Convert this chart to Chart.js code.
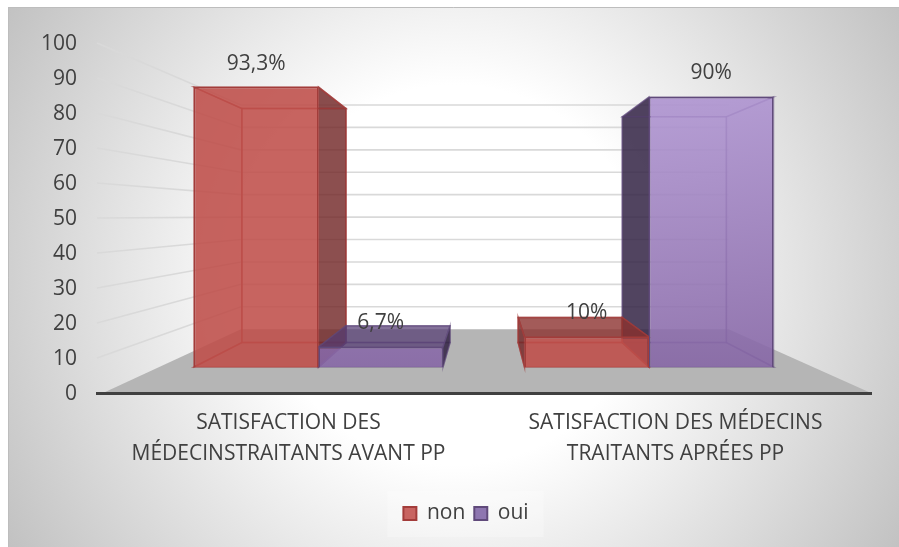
<!DOCTYPE html>
<html>
<head>
<meta charset="utf-8">
<style>html,body{margin:0;padding:0;background:#fff}canvas{display:block}</style>
<script src="https://cdn.jsdelivr.net/npm/chart.js@4/dist/chart.umd.min.js"></script>
</head>
<body>
<canvas id="c" width="899" height="547"></canvas>
<script>
const categories = [
  ['SATISFACTION DES', 'MÉDECINSTRAITANTS AVANT PP'],
  ['SATISFACTION DES MÉDECINS', 'TRAITANTS APRÉES PP']
];
const nonValues = [93.3, 10];
const ouiValues = [6.7, 90];
const nonLabels = ['93,3%', '10%'];
const ouiLabels = ['6,7%', '90%'];
const yTicks = {min: 0, max: 100, step: 10};

const TXT = '#404040', FONT = '"Open Sans", sans-serif';
const VP = {x: 486, y: 218};        // vanishing point of the 3D projection
const BAR_DEPTH = 0.836, WALL_DEPTH = 0.63;
const LEGEND_SHIFT = 30.5;
const project = (x, y, s) => [VP.x + s * (x - VP.x), VP.y + s * (y - VP.y)];

const styles = [
  {stroke: '#a33c3a', line: 'rgba(163,60,58,.7)', side: 'rgba(115,40,40,.82)', top: 'rgba(140,50,48,.8)', inner: 'rgba(110,30,30,.05)'},
  {stroke: '#604a7b', line: 'rgba(96,74,123,.5)', side: 'rgba(50,35,68,.85)', top: 'rgba(85,60,115,.72)', inner: 'rgba(60,30,100,.06)'}
];

function poly(ctx, pts, fill, stroke) {
  ctx.beginPath();
  pts.forEach((p, i) => i ? ctx.lineTo(p[0], p[1]) : ctx.moveTo(p[0], p[1]));
  ctx.closePath();
  if (fill) { ctx.fillStyle = fill; ctx.fill(); }
  if (stroke) { ctx.strokeStyle = stroke; ctx.lineWidth = 1.5; ctx.stroke(); }
}

const scene = {
  id: 'scene',
  afterLayout(chart) {
    chart.legend.left += LEGEND_SHIFT;
    chart.legend.right += LEGEND_SHIFT;
  },
  beforeDraw(chart) {
    const {ctx} = chart, W = chart.width, H = chart.height;
    ctx.save();
    const g = ctx.createRadialGradient(455, 275, 190, 455, 275, 520);
    g.addColorStop(0, '#ffffff');
    g.addColorStop(1, '#c2c2c2');
    ctx.fillStyle = g;
    ctx.fillRect(8, 7, W - 8, H - 7);
    ctx.strokeStyle = '#bdbdbd';
    ctx.lineWidth = 1;
    ctx.beginPath();
    ctx.moveTo(8.5, H); ctx.lineTo(8.5, 7.5); ctx.lineTo(W, 7.5);
    ctx.stroke();

    // legend's faint panel
    const lg = chart.legend;
    const lw = lg.lineWidths[0];
    const lx = (lg.left + lg.options.labels.padding + lg.right - lw) / 2;
    ctx.fillStyle = 'rgba(255,255,255,.25)';
    ctx.fillRect(lx - 16, (lg.top + lg.bottom) / 2 - 23, lw + 22, 46);

    const a = chart.chartArea, y = chart.scales.y, yB = chart.scales.yBack;
    const bl = project(a.left, 0, WALL_DEPTH)[0], br = project(a.right, 0, WALL_DEPTH)[0];
    // floor
    const y0 = y.getPixelForValue(0), b0 = yB.getPixelForValue(0);
    poly(ctx, [[a.left + 6, y0], [bl, b0], [br, b0], [a.right, y0]], '#b5b5b5');
    // walls' gridlines
    ctx.strokeStyle = '#d9d9d9';
    ctx.lineWidth = 1.6;
    y.ticks.forEach(t => {
      if (t.value === 0) return;
      const yf = y.getPixelForValue(t.value), yb = yB.getPixelForValue(t.value);
      ctx.beginPath();
      ctx.moveTo(a.left, yf); ctx.lineTo(bl, yb); ctx.lineTo(br, yb);
      ctx.stroke();
    });
    ctx.restore();
  },
  beforeDatasetsDraw(chart) {
    const {ctx} = chart;
    const bars = [];
    chart.data.datasets.forEach((ds, di) => {
      chart.getDatasetMeta(di).data.forEach((el, i) => bars.push({el, di, v: ds.data[i].y}));
    });
    bars.sort((p, q) => q.v - p.v);
    ctx.save();
    bars.forEach(({el, di}) => {
      const st = styles[di];
      const l = el.x - el.width / 2, r = el.x + el.width / 2, t = el.y, b = el.base;
      const A = [l, t], B = [r, t], C = [r, b], D = [l, b];
      const a2 = project(l, t, BAR_DEPTH), b2 = project(r, t, BAR_DEPTH);
      const c2 = project(r, b, BAR_DEPTH), d2 = project(l, b, BAR_DEPTH);
      poly(ctx, [a2, b2, c2, d2], null, st.line);
      poly(ctx, [D, C, c2, d2], st.inner, st.line);
      poly(ctx, [A, a2, d2, D], a2[0] < l ? st.side : st.inner, st.line);
      poly(ctx, [B, b2, c2, C], b2[0] > r ? st.side : st.inner, st.line);
      poly(ctx, [A, B, b2, a2], a2[1] < t ? st.top : st.inner, st.line);
    });
    ctx.restore();
  },
  afterDatasetsDraw(chart) {
    const {ctx} = chart;
    ctx.save();
    ctx.fillStyle = TXT;
    ctx.font = '21px ' + FONT;
    ctx.textAlign = 'center';
    ctx.textBaseline = 'middle';
    chart.data.datasets.forEach((ds, di) => {
      chart.getDatasetMeta(di).data.forEach((el, i) => {
        ctx.fillText(ds.valueLabels[i], el.x, el.y - 23.5);
      });
    });
    ctx.restore();
  }
};

function purpleFill(c) {
  const s = c.chart.scales.yBars;
  const y1 = s ? s.getPixelForValue(90) : NaN, y2 = s ? s.getPixelForValue(0) : NaN;
  if (!isFinite(y1) || !isFinite(y2)) return 'rgba(134,102,166,.88)';
  const g = c.chart.ctx.createLinearGradient(0, y1, 0, y2);
  g.addColorStop(0, 'rgba(174,147,209,.88)');
  g.addColorStop(1, 'rgba(134,102,166,.88)');
  return g;
}

const legendFills = ['#c86461', '#8e76b0'];
const toPoints = vals => vals.map((v, i) => ({x: i, y: v}));

new Chart(document.getElementById('c'), {
  type: 'bar',
  plugins: [scene],
  data: {
    labels: categories,
    datasets: [
      {label: 'non', data: toPoints(nonValues), valueLabels: nonLabels, xAxisID: 'xBars', yAxisID: 'yBars',
       backgroundColor: 'rgba(191,79,74,.88)', borderColor: styles[0].stroke, borderWidth: 1.5,
       categoryPercentage: 0.7535, barPercentage: 1},
      {label: 'oui', data: toPoints(ouiValues), valueLabels: ouiLabels, xAxisID: 'xBars', yAxisID: 'yBars',
       backgroundColor: purpleFill, borderColor: styles[1].stroke, borderWidth: 1.5,
       categoryPercentage: 0.7535, barPercentage: 1}
    ]
  },
  options: {
    responsive: false,
    animation: false,
    events: [],
    layout: {padding: {left: 0, right: 28, top: 43, bottom: 13}},
    plugins: {
      tooltip: {enabled: false},
      title: {display: false},
      legend: {
        position: 'bottom',
        labels: {
          boxWidth: 13, boxHeight: 13, padding: 9, color: TXT,
          font: {family: FONT, size: 21},
          generateLabels(chart) {
            return Chart.defaults.plugins.legend.labels.generateLabels(chart)
              .map(it => ({...it, fillStyle: legendFills[it.datasetIndex], lineWidth: 2}));
          }
        }
      }
    },
    scales: {
      x: {
        type: 'category', position: 'bottom', offset: true,
        grid: {display: false, drawTicks: false},
        border: {display: true, color: '#404040', width: 3},
        ticks: {color: TXT, font: {family: FONT, size: 21, lineHeight: 1.45}, padding: 15, maxRotation: 0, autoSkip: false, labelOffset: -2},
        afterFit(s) { s.height = 547 - 393 - 13 - (s.chart.legend ? s.chart.legend.height : 0); }
      },
      xBars: {type: 'linear', display: false, position: 'bottom', offset: false, min: -0.6702, max: 1.6717,
              ticks: {stepSize: 1, includeBounds: false}},
      y: {
        type: 'linear', position: 'left', min: yTicks.min, max: yTicks.max,
        grid: {display: false, drawTicks: false},
        border: {display: false},
        ticks: {stepSize: yTicks.step, color: TXT, font: {family: FONT, size: 21}, padding: 20, labelOffset: 1.5},
        afterFit(s) { s.width = 97; }
      },
      yBars: {type: 'linear', display: false, position: 'left', min: -8.667, max: 108},
      yBack: {type: 'linear', display: false, position: 'left', min: -28.46, max: 127.65}
    }
  }
});
</script>
</body>
</html>
